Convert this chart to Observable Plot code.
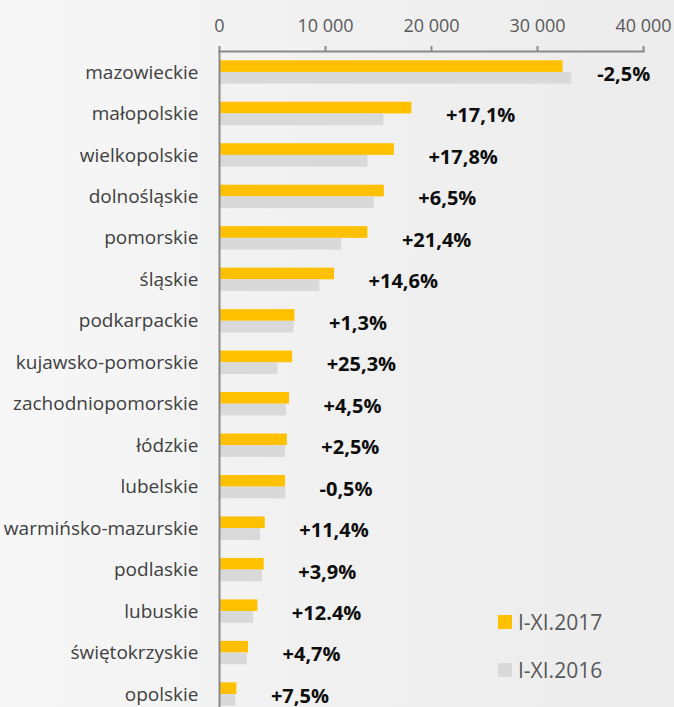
<!DOCTYPE html>
<html>
<head>
<meta charset="utf-8">
<script src="https://cdn.jsdelivr.net/npm/d3@7"></script>
<script src="https://cdn.jsdelivr.net/npm/@observablehq/plot@0.6"></script>
<style>
  html, body { margin: 0; padding: 0; }
  body { width: 674px; height: 707px; overflow: hidden; background: linear-gradient(90deg, #f7f7f7 0%, #f1f1f1 45%, #ececec 100%); font-family: "Open Sans", sans-serif; }
  #wrap { position: relative; width: 674px; height: 707px; }
  #legend { position: absolute; left: 498px; top: 598px; font-family: "Open Sans", sans-serif; font-size: 21px; color: #595959; }
  #legend .row { display: flex; align-items: center; height: 48px; }
  #legend .sw { width: 14px; height: 14px; margin-right: 6px; }
</style>
</head>
<body>
<div id="wrap"><div id="chart"></div>
<div id="legend"></div></div>
<script>
const regions = ["mazowieckie","małopolskie","wielkopolskie","dolnośląskie","pomorskie","śląskie","podkarpackie","kujawsko-pomorskie","zachodniopomorskie","łódzkie","lubelskie","warmińsko-mazurskie","podlaskie","lubuskie","świętokrzyskie","opolskie"];
const v2017 = [32420, 18150, 16500, 15550, 14000, 10850, 7120, 6900, 6600, 6400, 6230, 4320, 4220, 3620, 2740, 1640];
const v2016 = [33240, 15500, 14010, 14600, 11530, 9470, 7030, 5510, 6320, 6240, 6260, 3880, 4060, 3220, 2620, 1530];
const changes = ["-2,5%","+17,1%","+17,8%","+6,5%","+21,4%","+14,6%","+1,3%","+25,3%","+4,5%","+2,5%","-0,5%","+11,4%","+3,9%","+12.4%","+4,7%","+7,5%"];
const xTicks = [0, 10000, 20000, 30000, 40000];
const seriesNames = ["I-XI.2017", "I-XI.2016"];
const seriesColors = ["#FFC000", "#D9D9D9"];

const data = regions.map((r, i) => ({region: r, a: v2017[i], b: v2016[i], label: changes[i]}));
const half = 11.7;

const chart = Plot.plot({
  width: 674,
  height: 707,
  marginLeft: 219,
  marginRight: 31,
  marginTop: 51,
  marginBottom: 0,
  style: {background: "transparent", fontFamily: "Open Sans", overflow: "visible"},
  x: {domain: [0, 40000], axis: null},
  y: {domain: regions, range: [51, 715], paddingInner: 0.436, paddingOuter: 0.2235, round: false, axis: null, label: null},
  marks: [
    Plot.barX(data, {y: "region", x: "a", fill: seriesColors[0], insetBottom: half}),
    Plot.barX(data, {y: "region", x: "b", fill: seriesColors[1], insetTop: half}),
    Plot.ruleX([0], {stroke: "#8a8a8a", strokeWidth: 2}),
    Plot.frame({anchor: "top", stroke: "#8a8a8a", strokeWidth: 2}),
    Plot.axisX(xTicks, {anchor: "top", label: null, tickSize: 6, tickPadding: 14, stroke: "#8a8a8a", strokeWidth: 2, fill: "#595959", fontSize: 18,
      tickFormat: d => d3.format(",")(d).replace(/,/g, " ")}),
    Plot.axisY({anchor: "left", label: null, tickSize: 0, tickPadding: 21, fontSize: 19, fill: "#404040"}),
    Plot.text(data, {y: "region", x: "a", text: "label", textAnchor: "start", dx: 34, dy: 2, fontSize: 20, fontWeight: "bold", fill: "#0d0d0d"})
  ]
});
document.getElementById("chart").appendChild(chart);

const legend = document.getElementById("legend");
seriesNames.forEach((n, i) => {
  const row = document.createElement("div");
  row.className = "row";
  const sw = document.createElement("span");
  sw.className = "sw";
  sw.style.background = seriesColors[i];
  const t = document.createElement("span");
  t.textContent = n;
  row.appendChild(sw);
  row.appendChild(t);
  legend.appendChild(row);
});
</script>
</body>
</html>
